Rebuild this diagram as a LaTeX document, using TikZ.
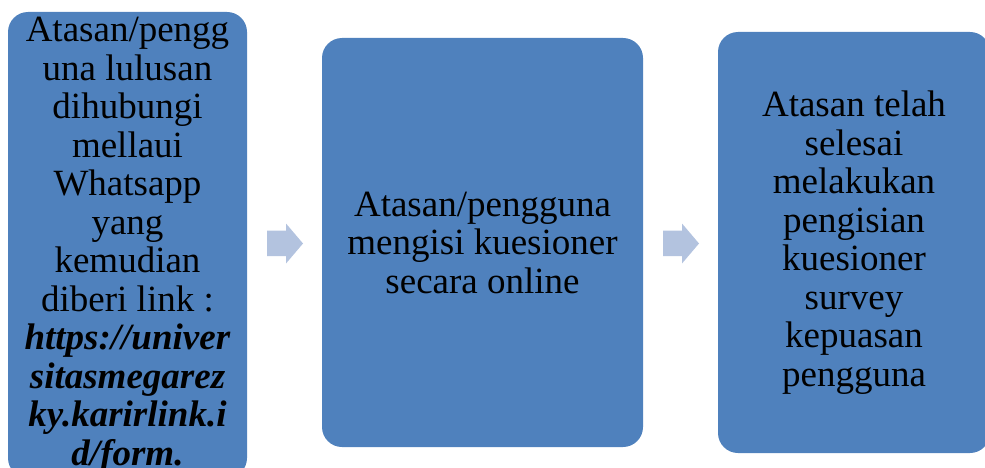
\documentclass[tikz,border=0pt]{standalone}
\usepackage{fontspec}
\setmainfont{Liberation Serif}
\definecolor{boxblue}{HTML}{4F81BD}
\definecolor{arrowblue}{HTML}{B3C3DF}
\begin{document}
\begin{tikzpicture}[x=1pt,y=-1pt,
  box/.style={draw=none,fill=boxblue,rounded corners=20pt,align=center,
    inner sep=0pt,font=\fontsize{37}{38.5}\selectfont,text=black},
  blockarrow/.style={fill=arrowblue,draw=none}]
\useasboundingbox (0,0) rectangle (985,468);
\node[box,minimum width=239pt,minimum height=466pt] (b1) at (127.5,245)
  {Atasan/pengg\\una lulusan\\dihubungi\\mellaui\\Whatsapp\\yang\\kemudian\\diberi link :\\
   \textbf{\textit{https://univer}}\\\textbf{\textit{sitasmegarez}}\\\textbf{\textit{ky.karirlink.i}}\\\textbf{\textit{d/form.}}};
\node[box,minimum width=321pt,minimum height=409pt] (b2) at (482.5,242.5)
  {Atasan/pengguna\\mengisi kuesioner\\secara online};
\node[box,minimum width=272pt,minimum height=421pt] (b3) at (854,242.5)
  {Atasan telah\\selesai\\melakukan\\pengisian\\kuesioner\\survey\\kepuasan\\pengguna};
\coordinate (a1) at (267,243);
\coordinate (a2) at (663,243);
\foreach \a in {a1,a2}{
  \fill[blockarrow] (\a) ++(0,-12.5) -- ++(19,0) -- ++(0,-7) -- ++(17,20) -- ++(-17,20) -- ++(0,-7.5) -- ++(-19,0) -- cycle;
}
\end{tikzpicture}
\end{document}
